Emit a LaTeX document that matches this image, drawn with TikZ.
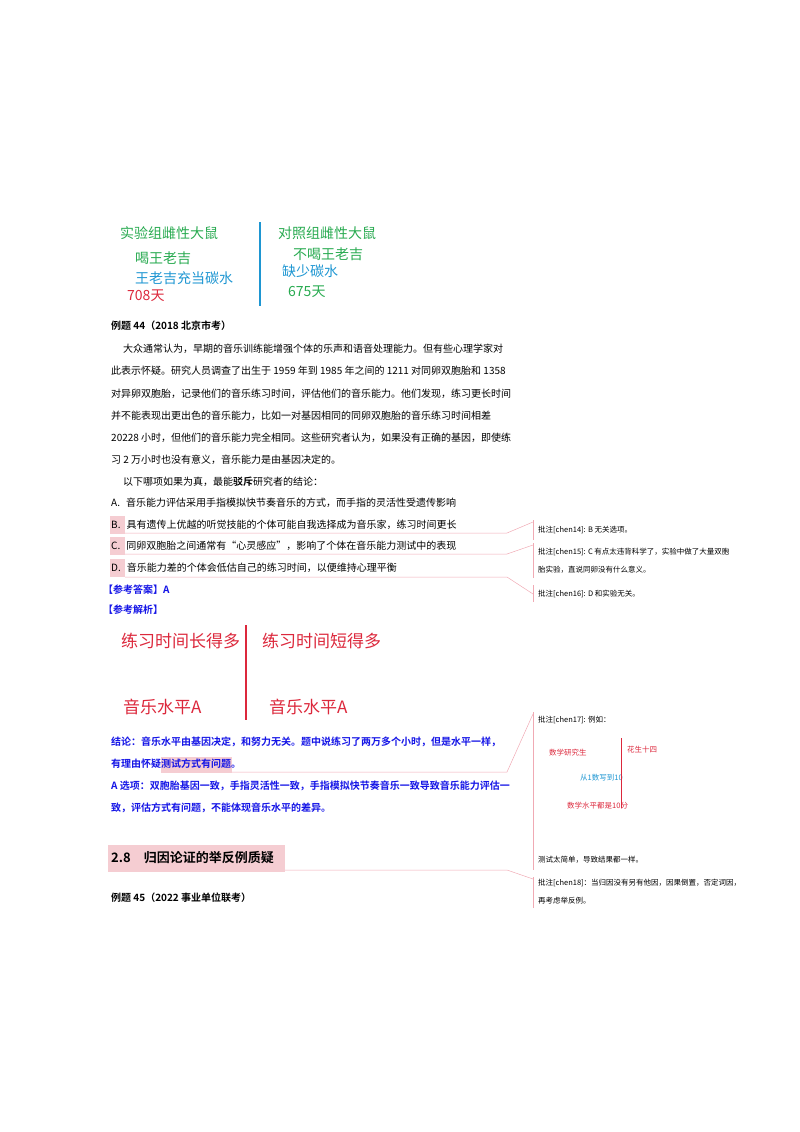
\documentclass[tikz,border=0pt]{standalone}
\usepackage{fontspec}
\setmainfont{Noto Sans CJK SC}
\newfontfamily\cjkb{Noto Sans CJK SC Bold}
\usetikzlibrary{positioning}
\definecolor{grn}{RGB}{40,170,80}
\definecolor{cyn}{RGB}{30,150,210}
\definecolor{rd}{RGB}{220,40,60}
\definecolor{pnk}{RGB}{240,170,180}
\definecolor{hil}{RGB}{245,205,210}
\definecolor{bl}{RGB}{20,20,230}
\tikzset{
  txt/.style={anchor=west, inner sep=0pt, font=\fontsize{10}{10}\selectfont},
  big/.style={anchor=west, inner sep=0pt, font=\fontsize{14}{14}\selectfont},
  huge/.style={anchor=west, inner sep=0pt, font=\fontsize{17}{17}\selectfont},
  note/.style={anchor=west, inner sep=0pt, font=\fontsize{7.5}{7.5}\selectfont},
  link/.style={draw=pnk, line width=0.5pt},
  bar/.style={draw=pnk, line width=0.6pt}
}
\begin{document}
\begin{tikzpicture}[x=1pt, y=-1pt]
  \useasboundingbox (0,0) rectangle (800,1132);

  % top picture
  \node[big, grn] (exp) at (120,233) {实验组雌性大鼠};
  \node[big, grn] (drink) at (135,258) {喝王老吉};
  \node[big, cyn] (carb) at (135,278) {王老吉充当碳水};
  \node[big, rd] (d708) at (127,296) {708天};
  \node[big, grn] (ctrl) at (278,233) {对照组雌性大鼠};
  \node[big, grn] (nodrink) at (293,254) {不喝王老吉};
  \node[big, cyn] (nocarb) at (282,271) {缺少碳水};
  \node[big, grn] (d675) at (288,292) {675天};
  \draw[cyn, line width=1.5pt] (260,222) -- (260,306);

  % question
  \node[txt] (q44) at (111,326) {\cjkb 例题 44（2018 北京市考）};
  \node[txt] (p1) at (123,349) {大众通常认为，早期的音乐训练能增强个体的乐声和语音处理能力。但有些心理学家对};
  \node[txt] (p2) at (111,371) {此表示怀疑。研究人员调查了出生于 1959 年到 1985 年之间的 1211 对同卵双胞胎和 1358};
  \node[txt] (p3) at (111,394) {对异卵双胞胎，记录他们的音乐练习时间，评估他们的音乐能力。他们发现，练习更长时间};
  \node[txt] (p4) at (111,416) {并不能表现出更出色的音乐能力，比如一对基因相同的同卵双胞胎的音乐练习时间相差};
  \node[txt] (p5) at (111,438) {20228 小时，但他们的音乐能力完全相同。这些研究者认为，如果没有正确的基因，即使练};
  \node[txt] (p6) at (111,460) {习 2 万小时也没有意义，音乐能力是由基因决定的。};
  \node[txt] (ask) at (123,482) {以下哪项如果为真，最能{\cjkb 驳斥}研究者的结论：};

  % options
  \foreach \y in {525,546,568}
    \fill[hil] (110,\y-9) rectangle (125,\y+9);
  \node[txt] (optA) at (111,503) {A.\hspace{6pt}音乐能力评估采用手指模拟快节奏音乐的方式，而手指的灵活性受遗传影响};
  \node[txt] (optB) at (111,525) {B.\hspace{6pt}具有遗传上优越的听觉技能的个体可能自我选择成为音乐家，练习时间更长};
  \node[txt] (optC) at (111,546) {C.\hspace{6pt}同卵双胞胎之间通常有“心灵感应”，影响了个体在音乐能力测试中的表现};
  \node[txt] (optD) at (111,568) {D.\hspace{6pt}音乐能力差的个体会低估自己的练习时间，以便维持心理平衡};
  \node[txt, bl] (ans) at (103,590) {\cjkb 【参考答案】A};
  \node[txt, bl] (anl) at (103,610) {\cjkb 【参考解析】};

  % red picture
  \node[huge, rd] (long) at (121,641) {练习时间长得多};
  \node[huge, rd] (short) at (262,641) {练习时间短得多};
  \node[huge, rd] (lvlA) at (123,707) {音乐水平A};
  \node[huge, rd] (lvlB) at (269,707) {音乐水平A};
  \draw[rd, line width=2pt] (246,625) -- (246,720);

  % conclusion
  \fill[hil] (161,757) rectangle (232,773);
  \node[txt, bl] (c1) at (111,742) {\cjkb 结论：音乐水平由基因决定，和努力无关。题中说练习了两万多个小时，但是水平一样，};
  \node[txt, bl] (c2) at (111,764) {\cjkb 有理由怀疑测试方式有问题。};
  \node[txt, bl] (c3) at (111,786) {\cjkb A 选项：双胞胎基因一致，手指灵活性一致，手指模拟快节奏音乐一致导致音乐能力评估一};
  \node[txt, bl] (c4) at (111,808) {\cjkb 致，评估方式有问题，不能体现音乐水平的差异。};

  % section
  \fill[hil] (108,845) rectangle (285,872);
  \node[anchor=west, inner sep=0pt, font=\fontsize{13}{13}\selectfont] (sec) at (111,858) {\cjkb 2.8\quad 归因论证的举反例质疑};
  \node[txt] (q45) at (111,898) {\cjkb 例题 45（2022 事业单位联考）};

  % comments
  \node[note] (n14) at (538,530) {批注[chen14]: B 无关选项。};
  \node[note] (n15) at (538,552) {批注[chen15]: C 有点太违背科学了，实验中做了大量双胞};
  \node[note] (n15b) at (538,570) {胎实验，直说同卵没有什么意义。};
  \node[note] (n16) at (538,594) {批注[chen16]: D 和实验无关。};
  \node[note] (n17) at (538,720) {批注[chen17]: 例如：};
  \node[note, rd] (grad) at (549,753) {数学研究生};
  \node[note, rd] (peanut) at (627,750) {花生十四};
  \node[note, cyn] (count) at (580,778) {从1数写到10};
  \node[note, rd] (score) at (567,806) {数学水平都是10分};
  \draw[rd, line width=0.8pt] (621,738) -- (621,808);
  \node[note] (n17b) at (538,860) {测试太简单，导致结果都一样。};
  \node[note] (n18) at (538,883) {批注[chen18]：当归因没有另有他因，因果倒置，否定词因，};
  \node[note] (n18b) at (538,901) {再考虑举反例。};

  \foreach \a/\b in {520/540, 543/578, 585/602, 712/870, 877/908}
    \draw[bar] (533,\a) -- (533,\b);

  % connectors
  \coordinate (eB) at (507,533);
  \coordinate (eC) at (507,554);
  \coordinate (eD) at (507,577);
  \coordinate (eT) at (507,772);
  \coordinate (eS) at (507,870);
  \draw[link] (125,533) -- (eB) -- (533,522);
  \draw[link] (125,554) -- (eC) -- (533,545);
  \draw[link] (125,577) -- (eD) -- (533,594);
  \draw[link] (232,772) -- (eT) -- (533,714);
  \draw[link] (285,870) -- (eS) -- (533,879);
\end{tikzpicture}
\end{document}
